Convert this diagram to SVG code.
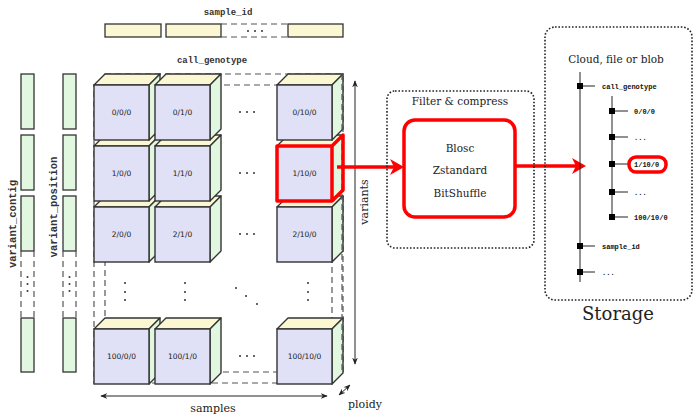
<svg xmlns="http://www.w3.org/2000/svg" width="700" height="419" viewBox="0 0 700 419">
<style>
.fr{fill:#e0e0f7;stroke:#333;stroke-width:1.4}
.tp{fill:#fbf7d2;stroke:#333;stroke-width:1.4;stroke-linejoin:round}
.sd{fill:#e2f7df;stroke:#333;stroke-width:1.4;stroke-linejoin:round}
.cl{font-family:"DejaVu Sans",sans-serif;font-size:7.5px;fill:#222;text-anchor:middle}
.mono{font-family:"Liberation Mono",monospace;font-weight:bold;fill:#333}
.ser{font-family:"DejaVu Serif",serif;fill:#222}
.bc{fill:#fbf7d2;stroke:#333;stroke-width:1.3}
.bg{fill:#e2f7df;stroke:#333;stroke-width:1.3}
.dash{fill:none;stroke:#555;stroke-width:1.2;stroke-dasharray:6 4}
.dot{fill:#333}
.dotbox{fill:none;stroke:#222;stroke-width:1.6;stroke-dasharray:1.6 1.8}
.ln{stroke:#222;stroke-width:1;fill:none}
.red{stroke:#f00;fill:none;stroke-width:3.5;stroke-linejoin:round}
.nd{fill:#000}
.tl{font-family:"Liberation Mono",monospace;font-size:7px;font-weight:bold;fill:#111}
</style>
<defs>
<marker id="ah" viewBox="0 0 10 10" refX="9" refY="5" markerWidth="7" markerHeight="7" orient="auto-start-reverse" markerUnits="userSpaceOnUse">
<path d="M0,1 L10,5 L0,9 L3,5 Z" fill="#222"/>
</marker>
<g id="cube">
<polygon class="tp" points="0,0 11,-11 66,-11 55,0"/>
<polygon class="sd" points="55,0 66,-11 66,44 55,55"/>
<rect class="fr" x="0" y="0" width="55" height="55"/>
</g>
</defs>

<!-- sample_id -->
<g id="sample_id">
<text class="mono" x="228" y="15" font-size="9" text-anchor="middle">sample_id</text>
<rect class="bc" x="105" y="24" width="56" height="13"/>
<rect class="bc" x="166" y="24" width="55" height="13"/>
<line class="dash" x1="221" y1="24" x2="288" y2="24"/>
<line class="dash" x1="221" y1="37" x2="288" y2="37"/>
<circle class="dot" cx="248" cy="31" r="1"/><circle class="dot" cx="255" cy="31" r="1"/><circle class="dot" cx="262" cy="31" r="1"/>
<rect class="bc" x="288" y="24" width="55" height="13"/>
</g>

<!-- variant_contig -->
<g id="variant_contig">
<text class="mono" transform="translate(16,224) rotate(-90)" font-size="10.5" text-anchor="middle">variant_contig</text>
<rect class="bg" x="21" y="74" width="13" height="55"/>
<rect class="bg" x="21" y="135" width="13" height="55"/>
<rect class="bg" x="21" y="196" width="13" height="55"/>
<line class="dash" x1="21" y1="251" x2="21" y2="318"/>
<line class="dash" x1="34" y1="251" x2="34" y2="318"/>
<circle class="dot" cx="27.5" cy="277" r="1"/><circle class="dot" cx="27.5" cy="284" r="1"/><circle class="dot" cx="27.5" cy="291" r="1"/>
<rect class="bg" x="21" y="318" width="13" height="54"/>
</g>
<g id="variant_position">
<text class="mono" transform="translate(57,207) rotate(-90)" font-size="10.5" text-anchor="middle">variant_position</text>
<rect class="bg" x="63" y="74" width="13" height="55"/>
<rect class="bg" x="63" y="135" width="13" height="55"/>
<rect class="bg" x="63" y="196" width="13" height="55"/>
<line class="dash" x1="63" y1="251" x2="63" y2="318"/>
<line class="dash" x1="76" y1="251" x2="76" y2="318"/>
<circle class="dot" cx="69.5" cy="277" r="1"/><circle class="dot" cx="69.5" cy="284" r="1"/><circle class="dot" cx="69.5" cy="291" r="1"/>
<rect class="bg" x="63" y="318" width="13" height="54"/>
</g>

<!-- call_genotype array -->
<g id="call_genotype">
<text class="mono" x="212" y="63" font-size="9" text-anchor="middle">call_genotype</text>
<rect class="dash" x="105" y="74" width="238" height="298"/>
<rect class="dash" x="94" y="85" width="238" height="298"/>
</g>

<g id="cells">
<g id="c100_0"><use href="#cube" x="94" y="329"/><text class="cl" x="121.5" y="359">100/0/0</text></g>
<g id="c100_1"><use href="#cube" x="155" y="329"/><text class="cl" x="182.5" y="359">100/1/0</text></g>
<g id="c100_10"><use href="#cube" x="277" y="329"/><text class="cl" x="304.5" y="359">100/10/0</text></g>

<g id="c2_0"><use href="#cube" x="94" y="207"/><text class="cl" x="121.5" y="237">2/0/0</text></g>
<g id="c2_1"><use href="#cube" x="155" y="207"/><text class="cl" x="182.5" y="237">2/1/0</text></g>
<g id="c2_10"><use href="#cube" x="277" y="207"/><text class="cl" x="304.5" y="237">2/10/0</text></g>

<g id="c1_0"><use href="#cube" x="94" y="146"/><text class="cl" x="121.5" y="176">1/0/0</text></g>
<g id="c1_1"><use href="#cube" x="155" y="146"/><text class="cl" x="182.5" y="176">1/1/0</text></g>
<g id="c1_10"><use href="#cube" x="277" y="146"/><text class="cl" x="304.5" y="176">1/10/0</text></g>

<g id="c0_0"><use href="#cube" x="94" y="85"/><text class="cl" x="121.5" y="115">0/0/0</text></g>
<g id="c0_1"><use href="#cube" x="155" y="85"/><text class="cl" x="182.5" y="115">0/1/0</text></g>
<g id="c0_10"><use href="#cube" x="277" y="85"/><text class="cl" x="304.5" y="115">0/10/0</text></g>

<line x1="342" y1="74" x2="342" y2="372" class="dash"/>
<path class="red" d="M277,146 H332 V201 H277 Z M332,146 L343,135 V190 L332,201"/>

<!-- ellipses -->
<g fill="#333">
<circle cx="240" cy="112" r="1"/><circle cx="247" cy="112" r="1"/><circle cx="254" cy="112" r="1"/>
<circle cx="240" cy="173" r="1"/><circle cx="247" cy="173" r="1"/><circle cx="254" cy="173" r="1"/>
<circle cx="240" cy="234" r="1"/><circle cx="247" cy="234" r="1"/><circle cx="254" cy="234" r="1"/>
<circle cx="240" cy="356" r="1"/><circle cx="247" cy="356" r="1"/><circle cx="254" cy="356" r="1"/>
<circle cx="125" cy="283" r="1"/><circle cx="125" cy="292" r="1"/><circle cx="125" cy="300" r="1"/>
<circle cx="185" cy="283" r="1"/><circle cx="185" cy="292" r="1"/><circle cx="185" cy="300" r="1"/>
<circle cx="308" cy="283" r="1"/><circle cx="308" cy="292" r="1"/><circle cx="308" cy="300" r="1"/>
<circle cx="236" cy="288" r="1"/><circle cx="246" cy="296" r="1"/><circle cx="257" cy="304" r="1"/>
</g>
</g>

<!-- axes -->
<g id="connectors">
<line class="ln" x1="355" y1="364" x2="355" y2="81" marker-start="url(#ah)" marker-end="url(#ah)"/>
<line class="ln" x1="101" y1="396" x2="327" y2="396" marker-start="url(#ah)" marker-end="url(#ah)"/>
<line class="ln" x1="339" y1="395" x2="350" y2="385" marker-start="url(#ah)" marker-end="url(#ah)"/>
<line stroke="#f00" stroke-width="3.5" x1="337" y1="167" x2="396" y2="167"/>
<path d="M404,167 L390,159 L394,167 L390,175 Z" fill="#f00"/>
<line stroke="#f00" stroke-width="3.5" x1="515" y1="166" x2="578" y2="166"/>
<path d="M586,166 L572,158 L576,166 L572,174 Z" fill="#f00"/>
</g>
<text class="ser" transform="translate(368,202) rotate(-90)" font-size="11" text-anchor="middle">variants</text>
<text class="ser" x="213" y="412" font-size="11" text-anchor="middle">samples</text>
<text class="ser" x="348" y="408" font-size="11">ploidy</text>

<!-- filter -->
<g id="filter">
<rect class="dotbox" x="387" y="91" width="147" height="157" rx="8"/>
<text class="ser" x="460" y="105" font-size="10.5" text-anchor="middle">Filter &amp; compress</text>
</g>
<g id="codecs">
<rect class="red" x="404" y="120" width="111" height="97" rx="11"/>
<text class="ser" x="460" y="152" font-size="10.5" text-anchor="middle">Blosc</text>
<text class="ser" x="460" y="174" font-size="10.5" text-anchor="middle">Zstandard</text>
<text class="ser" x="460" y="197" font-size="10.5" text-anchor="middle">BitShuffle</text>
</g>

<!-- storage -->
<g id="storage">
<rect class="dotbox" x="545" y="27" width="147" height="273" rx="10"/>
<text class="ser" x="616" y="63" font-size="10.5" text-anchor="middle">Cloud, file or blob</text>
<text class="ser" x="618" y="320" font-size="18" text-anchor="middle">Storage</text>
<line class="ln" x1="580" y1="72" x2="580" y2="282"/>
<line class="ln" x1="612" y1="96" x2="612" y2="218"/>
<g id="t_call"><line class="ln" x1="580" y1="86" x2="595" y2="86"/><rect class="nd" x="577" y="83" width="6" height="6"/><text class="tl" x="602" y="88.5">call_genotype</text></g>
<g id="t_000"><line class="ln" x1="612" y1="111" x2="628" y2="111"/><rect class="nd" x="609" y="108" width="6" height="6"/><text class="tl" x="634" y="113.5">0/0/0</text></g>
<g id="t_e1"><line class="ln" x1="612" y1="137" x2="628" y2="137"/><rect class="nd" x="609" y="134" width="6" height="6"/><text class="tl" x="634" y="139.5">...</text></g>
<g id="t_1100"><line class="ln" x1="612" y1="164" x2="628" y2="164"/><rect class="nd" x="609" y="161" width="6" height="6"/><rect class="red" x="629" y="157" width="37" height="15" rx="7" stroke-width="3"/><text class="tl" x="634" y="166.5">1/10/0</text></g>
<g id="t_e2"><line class="ln" x1="612" y1="192" x2="628" y2="192"/><rect class="nd" x="609" y="189" width="6" height="6"/><text class="tl" x="634" y="194.5">...</text></g>
<g id="t_100"><line class="ln" x1="612" y1="217" x2="628" y2="217"/><rect class="nd" x="609" y="214" width="6" height="6"/><text class="tl" x="634" y="219.5">100/10/0</text></g>
<g id="t_sid"><line class="ln" x1="580" y1="246" x2="595" y2="246"/><rect class="nd" x="577" y="243" width="6" height="6"/><text class="tl" x="602" y="248.5">sample_id</text></g>
<g id="t_e3"><line class="ln" x1="580" y1="272" x2="595" y2="272"/><rect class="nd" x="577" y="269" width="6" height="6"/><text class="tl" x="602" y="274.5">...</text></g>
</g>
</svg>
